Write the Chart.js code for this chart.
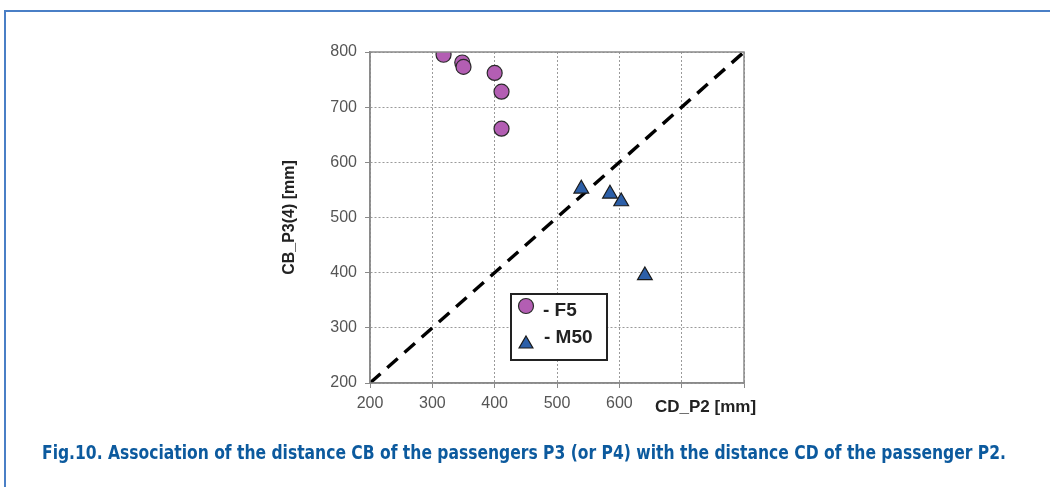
<!DOCTYPE html>
<html>
<head>
<meta charset="utf-8">
<script src="https://cdn.jsdelivr.net/npm/chart.js@4.4.1/dist/chart.umd.min.js"></script>
<style>
  html, body { margin: 0; padding: 0; background: #fff; }
  #wrap { position: relative; width: 1050px; height: 487px; overflow: hidden; }
  #frame { position: absolute; left: 4px; top: 10px; width: 1100px; height: 600px;
           border-top: 2px solid #4a7fc6; border-left: 2px solid #4a7fc6; }
  #chart { position: absolute; left: 0; top: 0; }
  #caption { position: absolute; left: 42px; top: 441px; white-space: nowrap;
             font-family: "DejaVu Sans Condensed", "Liberation Sans Narrow", "DejaVu Sans", sans-serif;
             font-weight: bold; font-size: 19px; color: #0c5a9e; transform-origin: 0 0; }
</style>
</head>
<body>
<div id="wrap">
  <div id="frame"></div>
  <canvas id="chart" width="1050" height="487"></canvas>
  <div id="caption">Fig.10. Association of the distance CB of the passengers P3 (or P4) with the distance CD of the passenger P2.</div>
</div>
<script>
// values
var f5X = [318, 348, 350, 400, 411, 411];
var f5Y = [795, 781, 773, 762, 728, 661];
var m50X = [539, 585, 603, 641];
var m50Y = [552, 543, 529, 395];
var diagX = [200, 800];
var diagY = [200, 800];
var seriesNames = ['- F5', '- M50'];
var xTitle = 'CD_P2 [mm]';
var yTitle = 'CB_P3(4) [mm]';

function pts(xs, ys) {
  return xs.map(function(x, i) { return {x: x, y: ys[i]}; });
}

// caption squeezed to the width of the original
(function() {
  var cap = document.getElementById('caption');
  var w = cap.getBoundingClientRect().width;
  cap.style.transform = 'scaleX(' + (964 / w) + ')';
})();

var frameBox = {
  id: 'frameBox',
  afterDraw: function(chart) {
    var a = chart.chartArea, ctx = chart.ctx;
    ctx.save();
    ctx.strokeStyle = '#8a8a8a';
    ctx.lineWidth = 1.5;
    ctx.strokeRect(a.left, a.top, a.right - a.left, a.bottom - a.top);
    ctx.restore();
  }
};

var xLabel = {
  id: 'xLabel',
  afterDraw: function(chart) {
    var ctx = chart.ctx;
    ctx.save();
    ctx.font = 'bold 17px "Liberation Sans", Arial, sans-serif';
    ctx.fillStyle = '#222';
    ctx.textBaseline = 'middle';
    ctx.fillText(xTitle, 655, 407);
    ctx.restore();
  }
};

var boxLegend = {
  id: 'boxLegend',
  afterDraw: function(chart) {
    var ctx = chart.ctx;
    ctx.save();
    ctx.fillStyle = '#fff';
    ctx.fillRect(511, 294, 96, 66);
    ctx.strokeStyle = '#222';
    ctx.lineWidth = 2;
    ctx.strokeRect(511, 294, 96, 66);
    var ds0 = chart.data.datasets[0], ds1 = chart.data.datasets[1];
    ctx.lineWidth = 1.2;
    ctx.fillStyle = ds0.backgroundColor; ctx.strokeStyle = ds0.borderColor;
    ctx.beginPath(); ctx.arc(526, 306, 7.5, 0, Math.PI * 2); ctx.fill(); ctx.stroke();
    ctx.fillStyle = ds1.backgroundColor; ctx.strokeStyle = ds1.borderColor;
    Chart.helpers.drawPoint(ctx, {pointStyle: 'triangle', radius: 8, borderWidth: 1.2}, 526, 344);
    ctx.font = 'bold 19px "Liberation Sans", Arial, sans-serif';
    ctx.fillStyle = '#222';
    ctx.textBaseline = 'middle';
    ctx.fillText(seriesNames[0], 543, 311);
    ctx.fillText(seriesNames[1], 544, 338);
    ctx.restore();
  }
};

var tickFont = {family: '"Liberation Sans", Arial, sans-serif', size: 16};

new Chart(document.getElementById('chart'), {
  type: 'scatter',
  data: {
    datasets: [
      {
        label: 'F5',
        data: pts(f5X, f5Y),
        pointStyle: 'circle',
        pointRadius: 7.5,
        backgroundColor: '#b35eb3',
        borderColor: '#2a2a2a',
        borderWidth: 1.2
      },
      {
        label: 'M50',
        data: pts(m50X, m50Y),
        pointStyle: 'triangle',
        pointRadius: 8.5,
        backgroundColor: '#2c5fa8',
        borderColor: '#1a1a1a',
        borderWidth: 1.2
      },
      {
        type: 'line',
        label: 'diag',
        data: pts(diagX, diagY),
        borderColor: '#000',
        borderWidth: 3.4,
        borderDash: [14, 9],
        pointRadius: 0,
        fill: false
      }
    ]
  },
  options: {
    responsive: false,
    animation: false,
    layout: {padding: {left: 280, right: 306, top: 52, bottom: 64}},
    plugins: {legend: {display: false}, tooltip: {enabled: false}},
    scales: {
      x: {
        type: 'linear', min: 200, max: 800,
        afterFit: function(s) { s.height = 40; },
        ticks: {
          stepSize: 100, color: '#555', font: tickFont, padding: 6, maxRotation: 0,
          callback: function(v) { return v > 600 ? '' : v; }
        },
        grid: {color: '#9a9a9a', lineWidth: 1, tickLength: 5, tickColor: '#8a8a8a'},
        border: {color: '#8a8a8a', width: 1.5, dash: [2, 2]}
      },
      y: {
        type: 'linear', min: 200, max: 800,
        afterFit: function(s) { s.width = 90; },
        ticks: {stepSize: 100, color: '#555', font: tickFont, padding: 8},
        grid: {color: '#9a9a9a', lineWidth: 1, tickLength: 5, tickColor: '#8a8a8a'},
        border: {color: '#8a8a8a', width: 1.5, dash: [2, 2]},
        title: {
          display: true, text: yTitle, color: '#222', padding: {top: 0, bottom: 10},
          font: {family: '"Liberation Sans", Arial, sans-serif', size: 16, weight: 'bold'}
        }
      }
    }
  },
  plugins: [frameBox, xLabel, boxLegend]
});
</script>
</body>
</html>
